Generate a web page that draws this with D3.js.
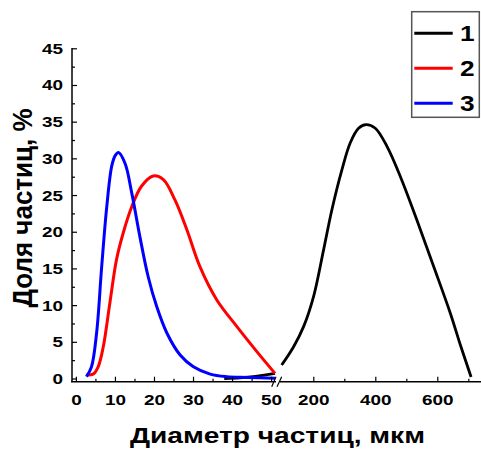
<!DOCTYPE html>
<html><head><meta charset="utf-8">
<script src="https://cdn.jsdelivr.net/npm/d3@7"></script>
<style>
body{margin:0;background:#fff;}
svg{display:block;}
text{font-family:"Liberation Sans",Arial,sans-serif;font-weight:bold;fill:#000;}
</style></head>
<body>
<svg id="chart" width="481" height="450"></svg>
<script>
// ---- data ----
const blueX = [2.7,4,5.3,6.6,7.9,9.2,10.1,10.9,12.6,14.3,16.4,18.5,20.7,23.3,26.7,30.1,34.4,38.6,43.8,51];
const blueY = [0.25,1.6,6.2,15.2,23.4,29.0,30.4,30.8,29.3,25.3,19.3,13.9,9.8,6.2,3.2,1.6,0.6,0.25,0.15,0.05];
const redX = [2.7,4.4,5.7,7,8.7,10.4,12.1,14.3,16.8,19.8,22.4,25.4,28.4,31.8,36.1,41.2,46.3,51];
const redY = [0.5,0.6,1.6,4.3,10.3,16.2,19.8,23.4,26.2,27.6,27.1,24.3,20.3,15.2,10.7,7.1,3.7,0.7];
const blackLeftX = [38,42,46,51];
const blackLeftY = [0,0.1,0.3,0.7];
const blackRightX = [98,136,169,201,233,260,292,319,346,370,400,438,481,535,588,642,675,709];
const blackRightY = [1.84,4.3,7.1,11.2,17.5,23,28.4,32.1,34.1,34.6,34.1,31.6,27.5,21.5,15.3,8.9,4.5,0.2];
const yTicks = [0,5,10,15,20,25,30,35,40,45];
const xLeftTicks = [0,10,20,30,40,50];
const xRightTicks = [200,400,600];
const legendLabels = ["1","2","3"];
const colors = ["#000000","#ff0000","#0000ff"];
const xTitle = "Диаметр частиц, мкм";
const yTitle = "Доля частиц, %";

const SX = 1.22; // horizontal glyph stretch seen in the reference

// ---- scales ----
const svg = d3.select("#chart");
const y = d3.scaleLinear().domain([0,45]).range([378.5,48.3]);
const xL = d3.scaleLinear().domain([-1,51]).range([72,275]);
const xR = d3.scaleLinear().domain([200,600]).range([313.3,437.3]);
const axisY = 381.7;

// ---- curves ----
const mk = (xs, sx) => d3.line().x((d,i)=>sx(xs[i])).y(d=>y(d)).curve(d3.curveCatmullRom.alpha(0.5));
const g = svg.append("g");
g.append("path").attr("d", mk(blackLeftX,xL)(blackLeftY)).attr("fill","none").attr("stroke",colors[0]).attr("stroke-width",2.8);
g.append("path").attr("d", mk(blackRightX,xR)(blackRightY)).attr("fill","none").attr("stroke",colors[0]).attr("stroke-width",2.8);
g.append("path").attr("d", mk(redX,xL)(redY)).attr("fill","none").attr("stroke",colors[1]).attr("stroke-width",3);
g.append("path").attr("d", mk(blueX,xL)(blueY)).attr("fill","none").attr("stroke",colors[2]).attr("stroke-width",3);

// ---- y axis ----
const yAx = svg.append("g").attr("transform","translate(72,0)")
  .call(d3.axisLeft(y).tickValues(yTicks).tickSize(-5).tickPadding(9).tickFormat(d3.format("d")));
yAx.select(".domain").remove();
yAx.selectAll("text").style("font-size","15.5px")
  .attr("x", -9/SX).attr("transform",`scale(${SX},1)`);
yAx.selectAll("line").attr("stroke","#000").attr("stroke-width",1.2);
const yMinor = svg.append("g").attr("transform","translate(72,0)")
  .call(d3.axisLeft(y).tickValues(yTicks.slice(0,-1).map(v=>v+2.5)).tickSize(-3).tickFormat(""));
yMinor.select(".domain").remove();
yMinor.selectAll("line").attr("stroke","#000").attr("stroke-width",1.2);
svg.append("line").attr("x1",72).attr("x2",72).attr("y1",48).attr("y2",axisY).attr("stroke","#000").attr("stroke-width",1.5);

// ---- x axes ----
function xAxis(scale, ticks, minor){
  const a = svg.append("g").attr("transform",`translate(0,${axisY})`)
    .call(d3.axisBottom(scale).tickValues(ticks).tickSize(-5).tickPadding(12.5).tickFormat(d3.format("d")));
  a.select(".domain").remove();
  a.selectAll("text").style("font-size","15.5px").attr("transform",`scale(${SX},1)`);
  a.selectAll("line").attr("stroke","#000").attr("stroke-width",1.2);
  const m = svg.append("g").attr("transform",`translate(0,${axisY})`)
    .call(d3.axisBottom(scale).tickValues(minor).tickSize(-3).tickFormat(""));
  m.select(".domain").remove();
  m.selectAll("line").attr("stroke","#000").attr("stroke-width",1.2);
}
xAxis(xL, xLeftTicks, [5,15,25,35,45]);
xAxis(xR, xRightTicks, [300,500,700]);
svg.append("line").attr("x1",71).attr("x2",276).attr("y1",axisY).attr("y2",axisY).attr("stroke","#000").attr("stroke-width",1.5);
svg.append("line").attr("x1",280).attr("x2",481).attr("y1",axisY).attr("y2",axisY).attr("stroke","#000").attr("stroke-width",1.5);
// break marks
[[271.7,276],[277,281.7]].forEach(([a,b])=>{
  svg.append("line").attr("x1",a).attr("y1",axisY+5).attr("x2",b).attr("y2",axisY-5).attr("stroke","#000").attr("stroke-width",1.2);
});

// ---- titles ----
svg.append("text").attr("transform",`translate(277.5,443) scale(1.25,1)`).attr("text-anchor","middle")
  .style("font-size","22.5px").text(xTitle);
svg.append("text").attr("transform",`translate(32,208) scale(1.08,1) rotate(-90)`).attr("text-anchor","middle")
  .style("font-size","26px").text(yTitle);

// ---- legend ----
const lg = svg.append("g");
lg.append("rect").attr("x",411.7).attr("y",11.7).attr("width",67.6).attr("height",105.6)
  .attr("fill","#fff").attr("stroke","#555").attr("stroke-width",1.5);
legendLabels.forEach((lab,i)=>{
  const ly = 33.3 + i*35;
  lg.append("line").attr("x1",414.3).attr("x2",452.7).attr("y1",ly).attr("y2",ly).attr("stroke",colors[i]).attr("stroke-width",3);
  lg.append("text").attr("transform",`translate(460,${ly+7.5}) scale(${SX},1)`).style("font-size","21.5px").text(lab);
});
</script>
</body></html>
